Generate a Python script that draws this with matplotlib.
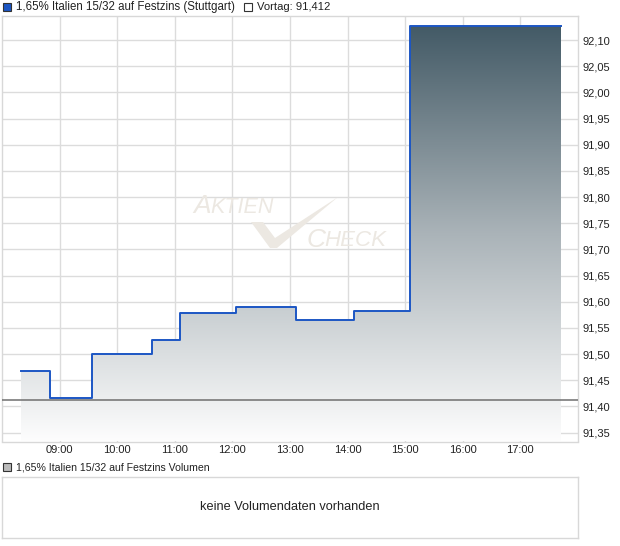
import matplotlib.pyplot as plt
import matplotlib.patches as mpatches
import numpy as np
from matplotlib.colors import LinearSegmentedColormap

plt.rcParams['font.family'] = ['Liberation Sans', 'DejaVu Sans']

# price steps (time of change, price level)
times = ["08:20", "08:50", "09:34", "10:36", "11:05", "12:04", "13:06", "14:07", "15:05", "17:42"]
prices = [91.467, 91.417, 91.500, 91.526, 91.578, 91.590, 91.565, 91.582, 92.127, 92.127]
vortag = 91.412

y_ticks = [91.35, 91.40, 91.45, 91.50, 91.55, 91.60, 91.65, 91.70, 91.75, 91.80,
           91.85, 91.90, 91.95, 92.00, 92.05, 92.10]
x_tick_labels = ["09:00", "10:00", "11:00", "12:00", "13:00", "14:00", "15:00", "16:00", "17:00"]

def to_hours(s):
    h, m = s.split(":")
    return int(h) + int(m) / 60

t = np.array([to_hours(s) for s in times])
p = np.array(prices)

W, H = 620, 546
fig = plt.figure(figsize=(W / 100, H / 100), dpi=100)

def fx(px):
    return px / W

def fy(py):
    return 1 - py / H

L, R, T, B = 2, 578, 16, 441.5
ax = fig.add_axes([fx(L), fy(B), fx(R) - fx(L), fy(T) - fy(B)])
ymin, ymax = 91.333, 92.146
ax.set_xlim(8, 18)
ax.set_ylim(ymin, ymax)

def axfrac(px, py):
    return ((px - L) / (R - L), (B - py) / (B - T))

# gradient fill under the step line
grad = np.linspace(0, 1, 256).reshape(-1, 1)
cmap = LinearSegmentedColormap.from_list("g", ["#fdfdfd", "#aab3b8", "#435a66"], N=256)
ts = np.repeat(t, 2)[1:]
ps = np.repeat(p, 2)[:-1]
poly_x = np.concatenate([[t[0]], ts, [t[-1]]])
poly_y = np.concatenate([[ymin], ps, [ymin]])
poly = mpatches.Polygon(np.column_stack([poly_x, poly_y]), closed=True,
                        facecolor='none', edgecolor='none')
ax.add_patch(poly)
img = ax.imshow(grad, extent=[8, 18, ymin, p.max()], origin='lower', aspect='auto',
                cmap=cmap, zorder=2)
img.set_clip_path(poly)

ax.step(t, p, where='post', color='#1c56c4', lw=1.4, zorder=4)
ax.axhline(vortag, color='#6f6f6f', lw=1.1, zorder=5)

ax.set_yticks(y_ticks)
ax.set_yticklabels([f"{v:.2f}".replace('.', ',') for v in y_ticks])
ax.set_xticks([to_hours(s) for s in x_tick_labels])
ax.set_xticklabels(x_tick_labels)
ax.yaxis.tick_right()
ax.tick_params(axis='both', length=0, labelsize=8, colors='#222222')
ax.tick_params(axis='y', pad=3.5)
ax.tick_params(axis='x', pad=2.5)
ax.grid(True, color='#dcdcdc', lw=1, zorder=0)
ax.set_axisbelow(True)
for s in ax.spines.values():
    s.set_color('#d8d8d8')
    s.set_linewidth(1)

# watermark
wm = '#ece8e2'
x0, y0 = axfrac(193, 206)
ax.text(x0, y0, "A", transform=ax.transAxes, fontsize=19, style='italic',
        color=wm, va='center', ha='left', zorder=1)
x0, y0 = axfrac(210, 207)
ax.text(x0, y0, "KTIEN", transform=ax.transAxes, fontsize=15.5, style='italic',
        color=wm, va='center', ha='left', zorder=1)
x0, y0 = axfrac(307, 240)
ax.text(x0, y0, "C", transform=ax.transAxes, fontsize=19, style='italic',
        color=wm, va='center', ha='left', zorder=1)
x0, y0 = axfrac(324, 241)
ax.text(x0, y0, "HECK", transform=ax.transAxes, fontsize=16, style='italic',
        color=wm, va='center', ha='left', zorder=1)
check_px = [(251, 222), (263, 222), (275, 238), (338, 197), (277, 248), (270, 248)]
check = [axfrac(a, b) for a, b in check_px]
ax.add_patch(mpatches.Polygon(check, closed=True, transform=ax.transAxes,
                              facecolor=wm, edgecolor='none', zorder=1))

# top legend
fig.patches.append(mpatches.Rectangle((fx(3), fy(11)), fx(8), fx(8) * W / H,
                                      transform=fig.transFigure, facecolor='#1c56c4',
                                      edgecolor='#333333', lw=0.8))
fig.text(fx(16), fy(7), "1,65% Italien 15/32 auf Festzins (Stuttgart)", fontsize=8.3,
         va='center', ha='left', color='#222222')
fig.patches.append(mpatches.Rectangle((fx(244), fy(11)), fx(8), fx(8) * W / H,
                                      transform=fig.transFigure, facecolor='white',
                                      edgecolor='#333333', lw=0.8))
fig.text(fx(257), fy(7), "Vortag: 91,412", fontsize=8.1, va='center', ha='left',
         color='#222222')

# volume panel
fig.patches.append(mpatches.Rectangle((fx(3), fy(471)), fx(8), fx(8) * W / H,
                                      transform=fig.transFigure, facecolor='#bbbbbb',
                                      edgecolor='#333333', lw=0.8))
fig.text(fx(16), fy(467), "1,65% Italien 15/32 auf Festzins Volumen", fontsize=7.6,
         va='center', ha='left', color='#222222')
vax = fig.add_axes([fx(2), fy(537.5), fx(578) - fx(2), fy(477) - fy(537.5)])
vax.set_xticks([])
vax.set_yticks([])
for s in vax.spines.values():
    s.set_color('#d8d8d8')
    s.set_linewidth(1)
vax.text(0.5, 0.5, "keine Volumendaten vorhanden", transform=vax.transAxes,
         ha='center', va='center', fontsize=9.2, color='#222222')

fig.savefig("out.png", dpi=100, facecolor='white')
